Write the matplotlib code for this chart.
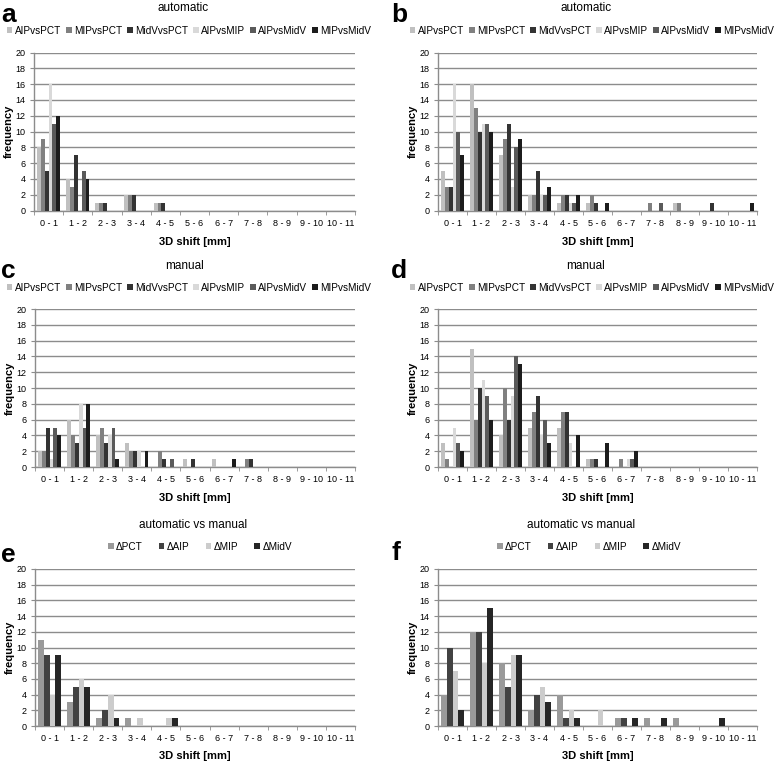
import numpy as np
import matplotlib
matplotlib.use('Agg')
import matplotlib.pyplot as plt

plt.rcParams['font.family'] = ['Liberation Sans', 'DejaVu Sans']

W, H = 778, 765

bins = ['0 - 1', '1 - 2', '2 - 3', '3 - 4', '4 - 5', '5 - 6',
        '6 - 7', '7 - 8', '8 - 9', '9 - 10', '10 - 11']

pair_names = ['AIPvsPCT', 'MIPvsPCT', 'MidVvsPCT', 'AIPvsMIP', 'AIPvsMidV', 'MIPvsMidV']
delta_names = ['ΔPCT', 'ΔAIP', 'ΔMIP', 'ΔMidV']

# a: automatic (left)
auto_left = [
    [8, 4, 1, 2, 1, 0, 0, 0, 0, 0, 0],
    [9, 3, 1, 2, 1, 0, 0, 0, 0, 0, 0],
    [5, 7, 1, 2, 1, 0, 0, 0, 0, 0, 0],
    [16, 0, 0, 0, 0, 0, 0, 0, 0, 0, 0],
    [11, 5, 0, 0, 0, 0, 0, 0, 0, 0, 0],
    [12, 4, 0, 0, 0, 0, 0, 0, 0, 0, 0],
]
# b: automatic (right)
auto_right = [
    [5, 16, 7, 2, 1, 1, 0, 0, 1, 0, 0],
    [3, 13, 9, 2, 2, 2, 0, 1, 1, 0, 0],
    [3, 10, 11, 5, 2, 1, 0, 0, 0, 1, 0],
    [16, 11, 3, 2, 1, 0, 0, 0, 0, 0, 0],
    [10, 11, 8, 2, 1, 0, 0, 1, 0, 0, 0],
    [7, 10, 9, 3, 2, 1, 0, 0, 0, 0, 1],
]
# c: manual (left)
man_left = [
    [2, 6, 4, 3, 0, 1, 1, 0, 0, 0, 0],
    [2, 4, 5, 2, 2, 0, 0, 1, 0, 0, 0],
    [5, 3, 3, 2, 1, 1, 0, 1, 0, 0, 0],
    [1, 8, 4, 2, 0, 0, 0, 0, 0, 0, 0],
    [5, 5, 5, 0, 1, 0, 0, 0, 0, 0, 0],
    [4, 8, 1, 2, 0, 0, 1, 0, 0, 0, 0],
]
# d: manual (right)
man_right = [
    [3, 15, 4, 5, 5, 1, 0, 0, 0, 0, 0],
    [1, 6, 10, 7, 7, 1, 1, 0, 0, 0, 0],
    [0, 10, 6, 9, 7, 1, 0, 0, 0, 0, 0],
    [5, 11, 9, 4, 3, 0, 1, 0, 0, 0, 0],
    [3, 9, 14, 6, 0, 0, 1, 0, 0, 0, 0],
    [2, 6, 13, 3, 4, 3, 2, 0, 0, 0, 0],
]
# e: automatic vs manual (left)
diff_left = [
    [11, 3, 1, 1, 0, 0, 0, 0, 0, 0, 0],
    [9, 5, 2, 0, 0, 0, 0, 0, 0, 0, 0],
    [4, 6, 4, 1, 1, 0, 0, 0, 0, 0, 0],
    [9, 5, 1, 0, 1, 0, 0, 0, 0, 0, 0],
]
# f: automatic vs manual (right)
diff_right = [
    [4, 12, 8, 2, 4, 0, 1, 1, 1, 0, 0],
    [10, 12, 5, 4, 1, 0, 1, 0, 0, 0, 0],
    [7, 8, 9, 5, 2, 2, 0, 0, 0, 0, 0],
    [2, 15, 9, 3, 1, 0, 1, 1, 0, 1, 0],
]

pair_colors = ['#c0c0c0', '#808080', '#333333', '#d9d9d9', '#5a5a5a', '#1c1c1c']
delta_colors = ['#9a9a9a', '#424242', '#cccccc', '#262626']


def px_axes(l, r, t, b):
    return fig.add_axes([l / W, 1 - b / H, (r - l) / W, (b - t) / H])


def draw_panel(box, data, names, colors, letter, title, title_x, title_y,
               leg_x, leg_y, letter_xy, xlabel_y, colspace):
    ax = px_axes(*box)
    n = len(data)
    x = np.arange(len(bins))
    w = 0.8 / n
    for i, (vals, name, col) in enumerate(zip(data, names, colors)):
        ax.bar(x - 0.4 + (i + 0.5) * w, vals, w, color=col, label=name,
               linewidth=0, zorder=3)
    ax.set_xlim(-0.5, len(bins) - 0.5)
    ax.set_ylim(0, 20)
    ax.set_yticks(range(0, 21, 2))
    ax.yaxis.grid(True, color='#8c8c8c', linewidth=1.0, zorder=0)
    ax.set_axisbelow(True)
    for s in ['top', 'right']:
        ax.spines[s].set_visible(False)
    for s in ['left', 'bottom']:
        ax.spines[s].set_color('#8c8c8c')
        ax.spines[s].set_linewidth(1.0)
    ax.set_xticks(x)
    ax.set_xticklabels(bins)
    ax.set_xticks(np.arange(-0.5, len(bins), 1), minor=True)
    ax.tick_params(axis='x', which='major', length=0, labelsize=6.5, pad=6)
    ax.tick_params(axis='x', which='minor', length=3, color='#8c8c8c')
    ax.tick_params(axis='y', length=3, color='#8c8c8c', labelsize=6.5, pad=3)
    ax.set_ylabel('frequency', fontsize=8, fontweight='bold', labelpad=1)

    cx = (box[0] + box[1]) / 2
    fig.text(cx / W, 1 - xlabel_y / H, '3D shift [mm]', fontsize=8,
             fontweight='bold', ha='center', va='center')
    fig.text(title_x / W, 1 - title_y / H, title, fontsize=8.5,
             ha='center', va='center')
    fig.text(letter_xy[0] / W, 1 - letter_xy[1] / H, letter, fontsize=19,
             fontweight='bold', ha='left', va='center')
    fig.legend(*ax.get_legend_handles_labels(), loc='center',
               bbox_to_anchor=(leg_x / W, 1 - leg_y / H), ncol=n,
               frameon=False, fontsize=7.2, handlelength=0.55,
               handleheight=0.55, handletextpad=0.25, columnspacing=colspace,
               borderpad=0)
    return ax


fig = plt.figure(figsize=(W / 100, H / 100), dpi=100)

draw_panel((34, 355, 52.5, 210.5), auto_left, pair_names, pair_colors, 'a',
           'automatic', 183, 8, 189, 31, (1, 15), 242, 0.5)
draw_panel((438, 757, 52.5, 210.5), auto_right, pair_names, pair_colors, 'b',
           'automatic', 586, 8, 592, 31, (391, 15), 242, 0.5)
draw_panel((35, 355, 309, 467), man_left, pair_names, pair_colors, 'c',
           'manual', 185, 266, 189, 288, (1, 271), 498, 0.5)
draw_panel((438, 757, 309, 467), man_right, pair_names, pair_colors, 'd',
           'manual', 586, 266, 592, 288, (391, 271), 498, 0.5)
draw_panel((35, 355, 569, 726), diff_left, delta_names, delta_colors, 'e',
           'automatic vs manual', 193, 525, 200, 547, (1, 555), 756, 1.6)
draw_panel((438, 757, 569, 726), diff_right, delta_names, delta_colors, 'f',
           'automatic vs manual', 581, 525, 589, 547, (391, 553), 756, 1.6)

fig.savefig('out.png', dpi=100)
